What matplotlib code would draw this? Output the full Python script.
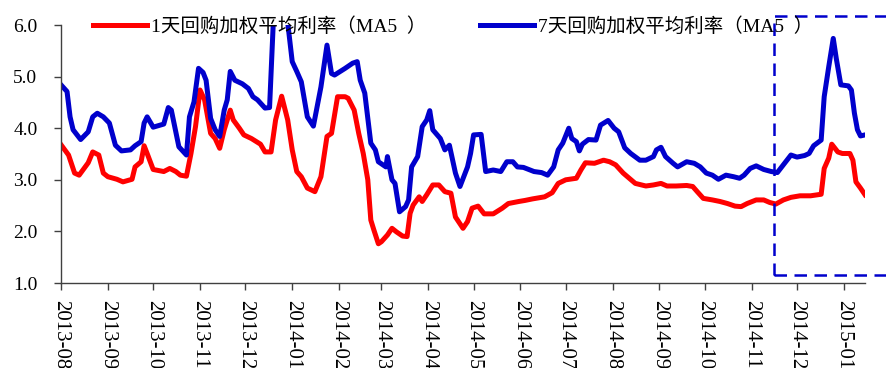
import matplotlib
matplotlib.use("Agg")
import matplotlib.pyplot as plt
import matplotlib.dates as mdates
from matplotlib.patches import Rectangle
from matplotlib.font_manager import FontProperties
import pandas as pd

# ---------------- data ----------------
label_1d = "1天回购加权平均利率（MA5  ）"
label_7d = "7天回购加权平均利率（MA5  ）"

dates_1d = [
    "2013-08-01", "2013-08-06", "2013-08-10", "2013-08-13", "2013-08-19", "2013-08-22",
    "2013-08-26", "2013-08-29", "2013-09-01", "2013-09-07", "2013-09-11", "2013-09-17",
    "2013-09-19", "2013-09-23", "2013-09-25", "2013-09-27", "2013-10-01", "2013-10-08",
    "2013-10-12", "2013-10-16", "2013-10-19", "2013-10-23", "2013-10-26", "2013-10-29",
    "2013-11-01", "2013-11-04", "2013-11-08", "2013-11-11", "2013-11-14", "2013-11-17",
    "2013-11-21", "2013-11-23", "2013-11-27", "2013-11-30", "2013-12-05", "2013-12-11",
    "2013-12-14", "2013-12-18", "2013-12-21", "2013-12-25", "2013-12-29", "2014-01-01",
    "2014-01-04", "2014-01-07", "2014-01-11", "2014-01-16", "2014-01-20", "2014-01-24",
    "2014-01-27", "2014-01-31", "2014-02-05", "2014-02-07", "2014-02-11", "2014-02-14",
    "2014-02-17", "2014-02-20", "2014-02-22", "2014-02-24", "2014-02-27", "2014-03-01",
    "2014-03-05", "2014-03-08", "2014-03-11", "2014-03-15", "2014-03-18", "2014-03-20",
    "2014-03-22", "2014-03-26", "2014-03-28", "2014-03-31", "2014-04-04", "2014-04-08",
    "2014-04-12", "2014-04-16", "2014-04-19", "2014-04-24", "2014-04-27", "2014-04-30",
    "2014-05-04", "2014-05-08", "2014-05-14", "2014-05-20", "2014-05-24", "2014-05-31",
    "2014-06-04", "2014-06-09", "2014-06-17", "2014-06-22", "2014-06-26", "2014-07-01",
    "2014-07-08", "2014-07-11", "2014-07-14", "2014-07-20", "2014-07-26", "2014-07-30",
    "2014-08-03", "2014-08-08", "2014-08-12", "2014-08-16", "2014-08-23", "2014-08-28",
    "2014-09-02", "2014-09-06", "2014-09-12", "2014-09-19", "2014-09-23", "2014-09-26",
    "2014-09-30", "2014-10-06", "2014-10-11", "2014-10-16", "2014-10-21", "2014-10-25",
    "2014-10-29", "2014-11-04", "2014-11-09", "2014-11-13", "2014-11-17", "2014-11-22",
    "2014-11-27", "2014-12-03", "2014-12-10", "2014-12-17", "2014-12-19", "2014-12-22",
    "2014-12-24", "2014-12-28", "2014-12-31", "2015-01-05", "2015-01-07", "2015-01-09",
    "2015-01-12", "2015-01-15",
]
rate_1d = [
    3.68, 3.48, 3.13, 3.09, 3.33, 3.54,
    3.48, 3.13, 3.06, 3.01, 2.96, 3.01,
    3.25, 3.35, 3.66, 3.51, 3.20, 3.16,
    3.22, 3.16, 3.09, 3.07, 3.51, 4.03,
    4.74, 4.55, 3.90, 3.80, 3.61, 3.97,
    4.35, 4.16, 4.00, 3.87, 3.80, 3.69,
    3.54, 3.54, 4.16, 4.62, 4.16, 3.58,
    3.16, 3.06, 2.84, 2.77, 3.06, 3.84,
    3.90, 4.61, 4.61, 4.58, 4.35, 3.90,
    3.51, 3.00, 2.22, 2.03, 1.76, 1.80,
    1.93, 2.06, 1.99, 1.91, 1.90, 2.35,
    2.51, 2.67, 2.58, 2.71, 2.90, 2.90,
    2.77, 2.74, 2.28, 2.06, 2.19, 2.45,
    2.49, 2.34, 2.34, 2.45, 2.54, 2.58,
    2.60, 2.63, 2.67, 2.75, 2.93, 3.00,
    3.03, 3.19, 3.33, 3.32, 3.38, 3.35,
    3.29, 3.13, 3.03, 2.93, 2.88, 2.90,
    2.93, 2.88, 2.88, 2.89, 2.87, 2.77,
    2.64, 2.61, 2.58, 2.54, 2.49, 2.48,
    2.54, 2.61, 2.61, 2.56, 2.53, 2.61,
    2.66, 2.69, 2.69, 2.72, 3.22, 3.42,
    3.69, 3.54, 3.51, 3.51, 3.38, 2.96,
    2.84, 2.71,
]

dates_7d = [
    "2013-08-01", "2013-08-05", "2013-08-07", "2013-08-09", "2013-08-14", "2013-08-19",
    "2013-08-22", "2013-08-25", "2013-08-29", "2013-09-02", "2013-09-06", "2013-09-10",
    "2013-09-16", "2013-09-19", "2013-09-23", "2013-09-25", "2013-09-27", "2013-10-01",
    "2013-10-08", "2013-10-11", "2013-10-13", "2013-10-18", "2013-10-23", "2013-10-25",
    "2013-10-28", "2013-10-31", "2013-11-03", "2013-11-05", "2013-11-08", "2013-11-11",
    "2013-11-14", "2013-11-17", "2013-11-19", "2013-11-21", "2013-11-24", "2013-11-29",
    "2013-12-03", "2013-12-06", "2013-12-09", "2013-12-14", "2013-12-17", "2013-12-20",
    "2013-12-24", "2013-12-28", "2014-01-01", "2014-01-04", "2014-01-07", "2014-01-11",
    "2014-01-15", "2014-01-20", "2014-01-24", "2014-01-27", "2014-01-29", "2014-02-05",
    "2014-02-10", "2014-02-13", "2014-02-15", "2014-02-18", "2014-02-22", "2014-02-25",
    "2014-02-27", "2014-03-04", "2014-03-05", "2014-03-08", "2014-03-10", "2014-03-13",
    "2014-03-17", "2014-03-19", "2014-03-21", "2014-03-25", "2014-03-28", "2014-03-31",
    "2014-04-02", "2014-04-04", "2014-04-09", "2014-04-12", "2014-04-15", "2014-04-19",
    "2014-04-22", "2014-04-27", "2014-04-29", "2014-05-01", "2014-05-06", "2014-05-09",
    "2014-05-14", "2014-05-19", "2014-05-23", "2014-05-27", "2014-05-30", "2014-06-03",
    "2014-06-10", "2014-06-15", "2014-06-19", "2014-06-23", "2014-06-26", "2014-06-29",
    "2014-07-03", "2014-07-05", "2014-07-08", "2014-07-10", "2014-07-12", "2014-07-16",
    "2014-07-21", "2014-07-24", "2014-07-29", "2014-08-02", "2014-08-05", "2014-08-09",
    "2014-08-13", "2014-08-19", "2014-08-23", "2014-08-28", "2014-08-30", "2014-09-02",
    "2014-09-05", "2014-09-10", "2014-09-13", "2014-09-19", "2014-09-24", "2014-09-28",
    "2014-10-02", "2014-10-06", "2014-10-10", "2014-10-15", "2014-10-20", "2014-10-24",
    "2014-10-27", "2014-10-31", "2014-11-04", "2014-11-09", "2014-11-14", "2014-11-18",
    "2014-11-22", "2014-11-27", "2014-12-01", "2014-12-06", "2014-12-09", "2014-12-12",
    "2014-12-17", "2014-12-19", "2014-12-22", "2014-12-25", "2014-12-27", "2014-12-30",
    "2015-01-04", "2015-01-06", "2015-01-08", "2015-01-10", "2015-01-12", "2015-01-15",
]
rate_7d = [
    4.84, 4.71, 4.22, 3.97, 3.78, 3.93,
    4.22, 4.29, 4.22, 4.10, 3.67, 3.56,
    3.58, 3.66, 3.74, 4.10, 4.22, 4.02,
    4.08, 4.40, 4.35, 3.64, 3.48, 4.22,
    4.51, 5.16, 5.08, 4.93, 4.19, 3.97,
    3.84, 4.35, 4.55, 5.10, 4.93, 4.86,
    4.77, 4.61, 4.55, 4.39, 4.40, 6.40,
    6.50, 6.30, 5.29, 5.10, 4.90, 4.22,
    4.04, 4.80, 5.61, 5.06, 5.03, 5.16,
    5.26, 5.29, 4.93, 4.68, 3.71, 3.58,
    3.35, 3.25, 3.45, 3.00, 2.93, 2.38,
    2.48, 2.61, 3.25, 3.45, 4.03, 4.16,
    4.34, 3.97, 3.80, 3.58, 3.67, 3.13,
    2.87, 3.25, 3.51, 3.87, 3.88, 3.16,
    3.19, 3.16, 3.35, 3.35, 3.25, 3.24,
    3.16, 3.14, 3.09, 3.25, 3.58, 3.71,
    4.00, 3.80, 3.74, 3.56, 3.69, 3.78,
    3.77, 4.06, 4.15, 4.00, 3.93, 3.62,
    3.51, 3.38, 3.38, 3.45, 3.58, 3.63,
    3.45, 3.32, 3.25, 3.35, 3.32, 3.25,
    3.13, 3.09, 3.01, 3.09, 3.06, 3.03,
    3.09, 3.22, 3.27, 3.20, 3.16, 3.14,
    3.29, 3.48, 3.44, 3.47, 3.51, 3.66,
    3.77, 4.61, 5.19, 5.74, 5.35, 4.84,
    4.82, 4.74, 4.29, 3.97, 3.85, 3.87,
]

y_ticks = [1.0, 2.0, 3.0, 4.0, 5.0, 6.0]
x_range = ["2013-08-01", "2015-01-15"]
highlight_start = "2014-11-16"

# ---------------- style ----------------
RED = "#FF0000"
BLUE = "#0000CC"
serif = ["Liberation Serif", "Noto Sans CJK SC"]

fig = plt.figure(figsize=(8.86, 3.68), dpi=100)
ax = fig.add_axes([61 / 886, 1 - 283 / 368, (865 - 61) / 886, (283 - 25) / 368])

d1 = pd.to_datetime(dates_1d)
d7 = pd.to_datetime(dates_7d)
l1, = ax.plot(d1, rate_1d, color=RED, lw=3.6, solid_joinstyle="round", label=label_1d)
l7, = ax.plot(d7, rate_7d, color=BLUE, lw=3.6, solid_joinstyle="round", label=label_7d)

x0, x1 = pd.to_datetime(x_range)
ax.set_xlim(x0, x1)
ax.set_ylim(y_ticks[0], y_ticks[-1])
ax.set_yticks(y_ticks)
ax.yaxis.set_major_formatter(plt.FormatStrFormatter("%.1f"))
ax.xaxis.set_major_locator(mdates.MonthLocator())
ax.xaxis.set_major_formatter(mdates.DateFormatter("%Y-%m"))

for s in ["top", "right"]:
    ax.spines[s].set_visible(False)
for s in ["left", "bottom"]:
    ax.spines[s].set_color("#404040")
    ax.spines[s].set_linewidth(1.0)

ax.tick_params(axis="y", direction="out", length=5, width=1, color="#404040",
               pad=12, labelsize=14)
ax.tick_params(axis="x", direction="out", length=5, width=1, color="#404040",
               pad=7, labelsize=15)
for lab in ax.get_yticklabels():
    lab.set_fontfamily(serif)
for lab in ax.get_xticklabels():
    lab.set_fontfamily(serif)
    lab.set_rotation(-90)
    lab.set_ha("center")
    lab.set_va("top")

# legend (two separate entries placed along the top)
prop = FontProperties(family=serif, size=14)
leg1 = ax.legend(handles=[l1], loc="center left", bbox_to_anchor=(93 / 886, 1 - 26 / 368),
                 bbox_transform=fig.transFigure, frameon=False, prop=prop,
                 handlelength=2.8, handletextpad=0.2, borderpad=0, borderaxespad=0)
ax.add_artist(leg1)
ax.legend(handles=[l7], loc="center left", bbox_to_anchor=(480 / 886, 1 - 26 / 368),
          bbox_transform=fig.transFigure, frameon=False, prop=prop,
          handlelength=2.8, handletextpad=0.2, borderpad=0, borderaxespad=0)

# dashed highlight box around the latest period
xs = mdates.date2num(pd.Timestamp(highlight_start))
xf = (xs - mdates.date2num(x0)) / (mdates.date2num(x1) - mdates.date2num(x0))
rect = Rectangle((xf, 0.031), 0.5, 1.035 - 0.031, transform=ax.transAxes,
                 fill=False, edgecolor=BLUE, lw=1.8, linestyle=(0, (5, 3)),
                 clip_on=False, zorder=5)
ax.add_patch(rect)

fig.savefig("out.png", dpi=100)
